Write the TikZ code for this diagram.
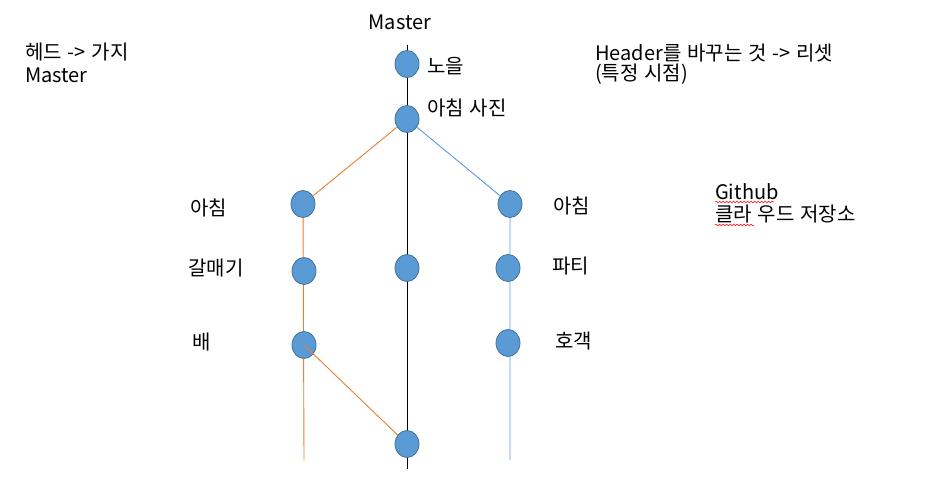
\documentclass[tikz,border=0pt]{standalone}
\usepackage{fontspec}
\setmainfont{Noto Sans CJK KR}[WordSpace=1.3]
\usetikzlibrary{shapes.geometric,backgrounds,decorations.pathmorphing}
\definecolor{commitfill}{HTML}{5B9BD5}
\definecolor{commitedge}{HTML}{41719C}
\definecolor{branchorange}{HTML}{ED7D31}
\definecolor{branchblue}{HTML}{5B9BD5}

\begin{document}
\begin{tikzpicture}[x=1pt,y=-1pt,
  commit/.style={ellipse, draw=commitedge, fill=commitfill, line width=0.8pt,
    minimum width=24pt, minimum height=27pt, inner sep=0pt},
  lbl/.style={anchor=west, inner sep=0pt, font=\fontsize{20}{22}\selectfont}]
\useasboundingbox (0,0) rectangle (926,502);
% commits
\coordinate (mtop) at (407,45);
\coordinate (mend) at (407,469);
\coordinate (oend) at (304,460);
\coordinate (bend) at (510,460);
\node[commit] (noeul) at (407,64) {};
\node[commit] (photo) at (407,119) {};
\node[commit] (morningL) at (303,204) {};
\node[commit] (gull) at (304,271) {};
\node[commit] (ship) at (304,345) {};
\node[commit] (mmid) at (407,268) {};
\node[commit] (mlast) at (407,444) {};
\node[commit] (morningR) at (510,204) {};
\node[commit] (party) at (508,268) {};
\node[commit] (client) at (508,343) {};
% branch lines
\begin{scope}[on background layer]
\draw[black, line width=0.9pt] (mtop) -- (mend);
\draw[branchorange, line width=0.9pt] (photo.center) -- (morningL.center) -- (oend);
\draw[branchblue, line width=0.9pt] (photo.center) -- (morningR.center) -- (bend);
\end{scope}
\draw[branchorange, line width=0.9pt] (ship.center) -- (mlast);
% labels
\node[lbl, anchor=center] (master) at (400,22) {Master};
\node[lbl] (lnoeul) at (427,66) {노을};
\node[lbl] (lphoto) at (427,108) {아침 사진};
\node[lbl] (lmorningL) at (190,208) {아침};
\node[lbl] (lgull) at (188,268) {갈매기};
\node[lbl] (lship) at (192,342) {배};
\node[lbl] (lmorningR) at (553,206) {아침};
\node[lbl] (lparty) at (552,266) {파티};
\node[lbl] (lclient) at (555,341) {호객};
\node[lbl] (head) at (25,52) {헤드 -> 가지};
\node[lbl] (headm) at (25,75) {Master};
\node[lbl] (reset) at (595,53) {Header를 바꾸는 것 -> 리셋};
\node[lbl] (point) at (595,74) {(특정 시점)};
\node[lbl] (gh) at (715,192) {Github};
\node[lbl] (cloud) at (715,214) {클라 우드 저장소};
% spell check marks
\draw[red, line width=0.5pt, decorate, decoration={snake, segment length=3.5pt, amplitude=0.8pt}]
  (715,202) -- (774,202);
\draw[red, line width=0.5pt, decorate, decoration={snake, segment length=3.5pt, amplitude=0.8pt}]
  (715,225) -- (754,225);
\end{tikzpicture}
\end{document}
